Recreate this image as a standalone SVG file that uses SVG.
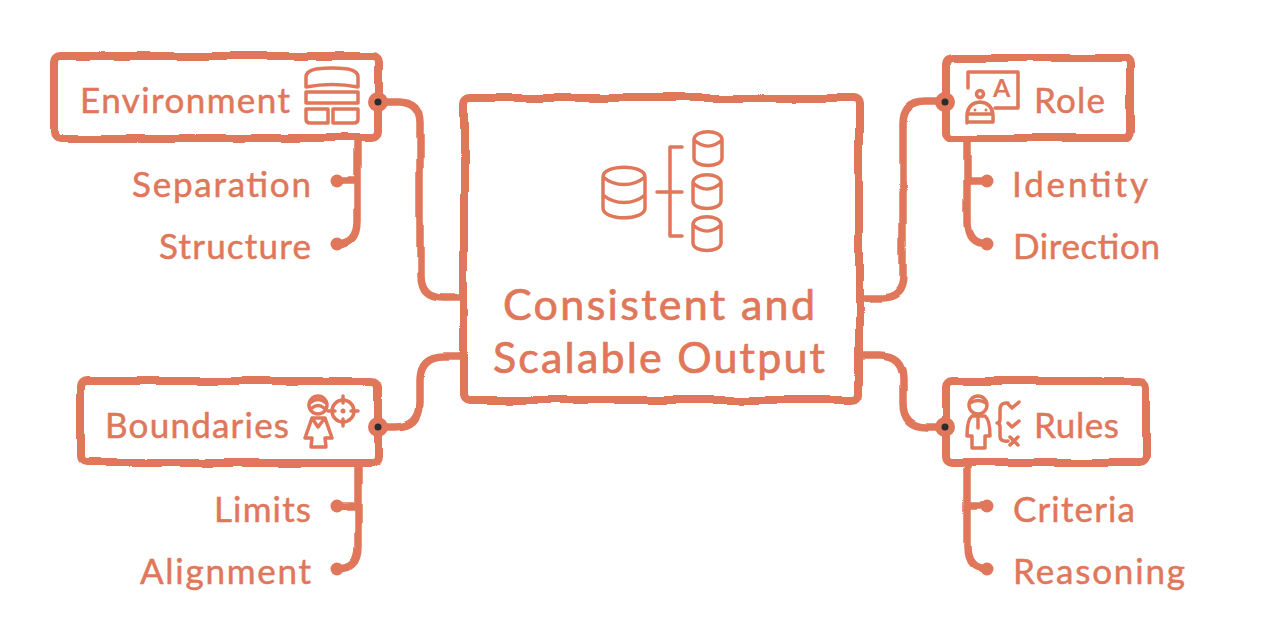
<svg xmlns="http://www.w3.org/2000/svg" width="1272" height="631" viewBox="0 0 1272 631">
<style>
.t{font-family:"Lato","Open Sans",sans-serif;fill:#E0775A;stroke:#E0775A;stroke-width:.5;font-size:35px}
.m{font-size:43px;stroke-width:.7}
.b{fill:#fff;stroke:#E0775A;stroke-width:8}
.c{fill:none;stroke:#E0775A;stroke-width:7.5;stroke-linecap:round;stroke-linejoin:round}
.i{fill:none;stroke:#E0775A;stroke-width:3.5;stroke-linecap:round;stroke-linejoin:round}
.o{fill:#E0775A}
.k{fill:#2b2b2b}
</style>
<defs>
<filter id="w" x="-5%" y="-5%" width="110%" height="110%"><feTurbulence type="fractalNoise" baseFrequency="0.018" numOctaves="2" seed="4"/><feDisplacementMap in="SourceGraphic" scale="6" xChannelSelector="R" yChannelSelector="G"/></filter>
</defs>
<rect width="1272" height="631" fill="#fff"/>
<g id="connectors" filter="url(#w)">
<path class="c" d="M378 102H398Q420 102 420 124V276Q420 298 442 298H461"/>
<path class="c" d="M378 427H396Q420 427 420 403V380Q420 356 444 356H461"/>
<path class="c" d="M945 102H925Q903 102 903 124V276Q903 298 881 298H862"/>
<path class="c" d="M945 427H927Q903 427 903 403V380Q903 356 879 356H862"/>
<path class="c" d="M358 141V222Q358 244 337 244M358 181H340"/>
<path class="c" d="M358 466V547Q358 569 337 569M358 506H340"/>
<path class="c" d="M967 140V222Q967 244 987 244M967 181H987"/>
<path class="c" d="M967 466V547Q967 569 987 569M967 506H987"/>
</g>
<g id="center">
<rect class="b" x="464" y="98" width="395" height="302" rx="6" filter="url(#w)"/>
<g class="icon">
<path class="i" d="M603 177C603 164 645 164 645 177V208C645 221 603 221 603 208ZM603 177C615 187 633 187 645 177M603 195C615 205 633 205 645 195"/>
<path class="i" d="M682 147H670V236H682M657 192H682"/>
<path class="i" d="M694 140C694 129 722 129 722 140V158C722 168 694 168 694 158ZM694 140C703 148 713 148 722 140"/>
<path class="i" d="M693 183C693 172 721 172 721 183V201C721 211 693 211 693 201ZM693 183C702 191 712 191 721 183"/>
<path class="i" d="M693 225C693 214 721 214 721 225V243C721 253 693 253 693 243ZM693 225C702 233 712 233 721 225"/>
</g>
<text class="t m" x="503" y="320" textLength="312">Consistent and</text>
<text class="t m" x="493" y="373" textLength="332">Scalable Output</text>
</g>
<g id="environment">
<rect class="b" x="54" y="56" width="324" height="82" rx="6" filter="url(#w)"/>
<text class="t" x="80" y="113" textLength="210">Environment</text>
<path class="i" d="M306 87V77Q306 71 316 69Q332 67 348 69Q358 71 358 77V87Q332 82 306 87ZM306 92H358V103H306ZM306 109H328V123H310Q306 123 306 119ZM333 109H358V119Q358 123 354 123H333Z"/>
<circle class="o" cx="378" cy="102" r="10"/><circle class="k" cx="378" cy="102" r="3.5"/>
</g>
<g id="separation"><circle class="o" cx="337" cy="181" r="6.5"/><text class="t" x="132" y="197" textLength="179">Separation</text></g>
<g id="structure"><circle class="o" cx="337" cy="244" r="6.5"/><text class="t" x="159" y="259" textLength="152">Structure</text></g>
<g id="boundaries">
<rect class="b" x="80" y="381" width="298" height="82" rx="6" filter="url(#w)"/>
<text class="t" x="105" y="438" textLength="184">Boundaries</text>
<circle class="i" cx="318" cy="405" r="9"/><path class="i" d="M310 403Q318 396 326 403M312 408Q318 403 324 408"/>
<path class="i" d="M312 418H325L332 438H325L326 447H311L312 438H305ZM312 418L318 427L325 418"/>
<circle class="i" cx="343" cy="411" r="11"/><path class="i" d="M343 396V403M343 419V426M328 411H335M351 411H358"/><circle class="o" cx="343" cy="411" r="2.5"/>
<circle class="o" cx="378" cy="427" r="10"/><circle class="k" cx="378" cy="427" r="3.5"/>
</g>
<g id="limits"><circle class="o" cx="337" cy="506" r="6.5"/><text class="t" x="214" y="522" textLength="97">Limits</text></g>
<g id="alignment"><circle class="o" cx="337" cy="569" r="6.5"/><text class="t" x="140" y="584" textLength="171">Alignment</text></g>
<g id="role">
<rect class="b" x="946" y="58" width="184" height="80" rx="6" filter="url(#w)"/>
<text class="t" x="1034" y="113" textLength="71">Role</text>
<path class="i" d="M968 88V72H1018V108H995"/>
<text x="993" y="97" textLength="17" style="font-family:'Lato',sans-serif;font-size:25px;font-weight:700;fill:#E0775A">A</text>
<circle class="i" cx="980" cy="94" r="3.5"/>
<path class="i" d="M967 123V115Q968 103 980 102Q992 103 993 115V122H967M968 114H992"/><circle class="o" cx="975" cy="110" r="1.5"/><circle class="o" cx="986" cy="110" r="1.5"/>
<circle class="o" cx="945" cy="102" r="10"/><circle class="k" cx="945" cy="102" r="3.5"/>
</g>
<g id="identity"><circle class="o" cx="987" cy="181" r="6.5"/><text class="t" x="1012" y="197" textLength="136">Identity</text></g>
<g id="direction"><circle class="o" cx="987" cy="244" r="6.5"/><text class="t" x="1013" y="259" textLength="147">Direction</text></g>
<g id="rules">
<rect class="b" x="946" y="381" width="200" height="82" rx="6" filter="url(#w)"/>
<text class="t" x="1034" y="438" textLength="85">Rules</text>
<circle class="i" cx="978" cy="405" r="9"/><path class="i" d="M970 403Q978 398 986 403"/>
<path class="i" d="M972 416H985Q990 420 990 436H985V448H972V436H967Q967 420 972 416ZM978 418V428"/>
<path class="i" d="M1008 403Q1000 402 1000 410V419Q1000 423 997 423Q1000 423 1000 427V436Q1000 442 1008 441M1008 404L1012 408L1019 402M1008 423L1012 427L1019 421M1010 437L1018 445M1018 437L1010 445"/>
<circle class="o" cx="945" cy="427" r="10"/><circle class="k" cx="945" cy="427" r="3.5"/>
</g>
<g id="criteria"><circle class="o" cx="987" cy="506" r="6.5"/><text class="t" x="1013" y="522" textLength="122">Criteria</text></g>
<g id="reasoning"><circle class="o" cx="987" cy="569" r="6.5"/><text class="t" x="1013" y="584" textLength="172">Reasoning</text></g>
</svg>
